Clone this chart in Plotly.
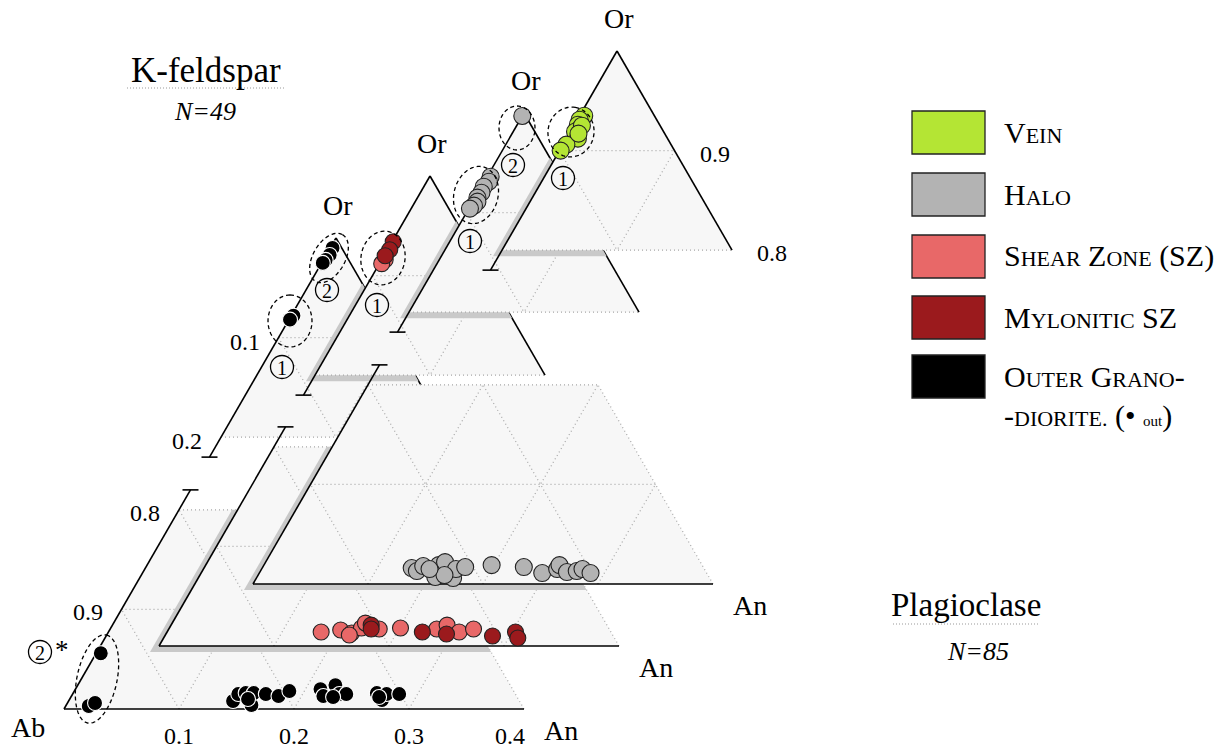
import math
import plotly.graph_objects as go

# ---------------- data (An, Or mole fractions) ----------------
# K-feldspar analyses (plotted near the Or apex)
kfs_vein_an = [0.004, 0.002, 0.003, 0.006, 0.004, 0.010, 0.003, 0.001, 0.007, 0.008]
kfs_vein_or = [0.935, 0.931, 0.926, 0.921, 0.919, 0.912, 0.906, 0.900, 0.925, 0.917]
kfs_halo_an = [0.000, 0.003, 0.004, 0.002, 0.003, 0.002, 0.004, 0.003, 0.001]
kfs_halo_or = [0.997, 0.936, 0.931, 0.926, 0.920, 0.915, 0.911, 0.907, 0.904]
kfs_sz_an = [0.003, 0.002]
kfs_sz_or = [0.916, 0.912]
kfs_myl_an = [0.001, 0.002, 0.001]
kfs_myl_or = [0.934, 0.926, 0.920]
kfs_out_an = [0.002, 0.003, 0.002, 0.001, 0.002, 0.001]
kfs_out_or = [0.990, 0.983, 0.978, 0.975, 0.922, 0.918]
kfs_out_ab_an = [0.004, 0.020, 0.024]
kfs_out_ab_or = [0.056, 0.003, 0.006]

# Plagioclase analyses (plotted near the Ab corner)
plg_halo_an = [0.130, 0.136, 0.139, 0.155, 0.152, 0.156, 0.171, 0.169, 0.176, 0.198,
               0.227, 0.246, 0.257, 0.257, 0.267, 0.275, 0.279, 0.288, 0.162, 0.146]
plg_halo_or = [0.016, 0.013, 0.018, 0.007, 0.019, 0.022, 0.006, 0.015, 0.017, 0.019,
               0.017, 0.011, 0.015, 0.019, 0.012, 0.013, 0.015, 0.011, 0.009, 0.015]
plg_sz_an = [0.134, 0.150, 0.161, 0.167, 0.168, 0.183, 0.201, 0.233, 0.240, 0.254, 0.265, 0.160]
plg_sz_or = [0.014, 0.016, 0.013, 0.018, 0.023, 0.017, 0.018, 0.017, 0.021, 0.014, 0.017, 0.011]
plg_myl_an = [0.174, 0.222, 0.244, 0.285, 0.303, 0.308, 0.176]
plg_myl_or = [0.021, 0.014, 0.012, 0.010, 0.014, 0.008, 0.017]
plg_out_an = [0.143, 0.144, 0.150, 0.161, 0.157, 0.168, 0.180, 0.187, 0.213, 0.219,
              0.224, 0.232, 0.238, 0.264, 0.272, 0.273, 0.284, 0.155, 0.228, 0.268]
plg_out_or = [0.008, 0.015, 0.016, 0.004, 0.016, 0.015, 0.013, 0.018, 0.020, 0.013,
              0.024, 0.015, 0.015, 0.016, 0.009, 0.015, 0.015, 0.010, 0.012, 0.012]

tick_values = [0.1, 0.2, 0.3, 0.4]
tick_labels = ["0.1", "0.2", "0.3", "0.4"]
SC = "<span style='font-size:22px'>"
legend_names = ["V" + SC + "EIN</span>",
                "H" + SC + "ALO</span>",
                "S" + SC + "HEAR</span> Z" + SC + "ONE</span> (SZ)",
                "M" + SC + "YLONITIC</span> SZ",
                "O" + SC + "UTER</span> G" + SC + "RANO</span>-"]
legend_last = "-" + SC + "DIORITE.</span> (• <span style='font-size:15px'>out</span>)"
group_marks = [("2", 327, 290), ("1", 282, 367), ("2", 40, 652), ("1", 377, 305),
               ("2", 513, 165), ("1", 470, 241), ("1", 563, 178)]

# ---------------- geometry / style ----------------
SX, SY = 1150.0, 996.0
FILL = "#f7f7f7"
SHADOW = "#c9c9c9"
GRID = "#a8a8a8"
GDASH = "1px,3px"
FONT = "Liberation Serif, Times New Roman, DejaVu Serif"
LAYERS = ["out", "sz", "halo", "vein"]          # back to front
LOWER = {"out": (64, 709), "sz": (159, 646), "halo": (253, 584)}
APEX = {"out": (336, 238), "sz": (430, 176), "halo": (524, 113), "vein": (617, 51)}
COL = {"vein": "#b4e534", "halo": "#b3b3b3", "sz": "#e86868", "myl": "#9b1a1d", "out": "#000000"}


def low(L, an, o):
    ox, oy = LOWER[L]
    return (ox + (an + o / 2) * SX, oy - o * SY)


def up(L, an, o):
    ax, ay = APEX[L]
    return (ax + (an + (o - 1) / 2) * SX, ay + (1 - o) * SY)


def path(pts, close=True):
    s = "M " + " L ".join(f"{x:.2f},{y:.2f}" for x, y in pts)
    return s + (" Z" if close else "")


def clip(subject, clipper):
    area = sum(clipper[i][0] * clipper[(i + 1) % len(clipper)][1] -
               clipper[(i + 1) % len(clipper)][0] * clipper[i][1] for i in range(len(clipper)))
    sg = 1 if area > 0 else -1

    def inside(p, a, b):
        return sg * ((b[0] - a[0]) * (p[1] - a[1]) - (b[1] - a[1]) * (p[0] - a[0])) >= 0

    def inter(p, q, a, b):
        x1, y1 = p; x2, y2 = q; x3, y3 = a; x4, y4 = b
        d = (x1 - x2) * (y3 - y4) - (y1 - y2) * (x3 - x4)
        t = ((x1 - x3) * (y3 - y4) - (y1 - y3) * (x3 - x4)) / d
        return (x1 + t * (x2 - x1), y1 + t * (y2 - y1))

    out = list(subject)
    for i in range(len(clipper)):
        a, b = clipper[i], clipper[(i + 1) % len(clipper)]
        inp, out = out, []
        if not inp:
            break
        s = inp[-1]
        for e in inp:
            if inside(e, a, b):
                if not inside(s, a, b):
                    out.append(inter(s, e, a, b))
                out.append(e)
            elif inside(s, a, b):
                out.append(inter(s, e, a, b))
            s = e
    return out


def region(L, piece):
    if piece == "lower":
        return [low(L, 0, 0), low(L, 0.4, 0), low(L, 0.2, 0.2), low(L, 0, 0.2)]
    return [up(L, 0, 1), up(L, 0, 0.8), up(L, 0.2, 0.8)]


shapes = []


def seg(p, q, color="black", width=1.6, dash="solid"):
    shapes.append(dict(type="line", x0=p[0], y0=p[1], x1=q[0], y1=q[1],
                       line=dict(color=color, width=width, dash=dash), layer="below"))


def gseg(p, q):
    seg(p, q, GRID, 1.2, GDASH)


def tick(p):
    seg((p[0] - 8, p[1]), (p[0] + 8, p[1]), width=1.6)


for i, L in enumerate(LAYERS):
    pieces = (["lower"] if L in LOWER else []) + ["upper"]
    # shadow cast on the layer just behind
    if i > 0:
        prev = LAYERS[i - 1]
        for pc in pieces:
            if pc == "lower" and prev not in LOWER:
                continue
            shifted = [(x - 9, y + 6) for x, y in region(L, pc)]
            sh = clip(shifted, region(prev, pc))
            if len(sh) >= 3:
                shapes.append(dict(type="path", path=path(sh), fillcolor=SHADOW,
                                   line=dict(width=0), layer="below"))
    for pc in pieces:
        shapes.append(dict(type="path", path=path(region(L, pc)), fillcolor=FILL,
                           line=dict(width=0), layer="below"))
    # dotted grid
    if "lower" in pieces:
        g = lambda a, o: low(L, a, o)
        gseg(g(0, 0.1), g(0.3, 0.1))
        gseg(g(0, 0.2), g(0.2, 0.2))
        for a in (0.1, 0.2, 0.3):
            gseg(g(a, 0), g(a, min(0.2, 0.4 - a)))
        for s in (0.1, 0.2, 0.3, 0.4):
            o = min(s, 0.2)
            gseg(g(s, 0), g(s - o, o))
        # axes
        seg(g(0, 0), g(0.4, 0))
        seg(g(0, 0), g(0, 0.22))
        tick(g(0, 0.22))
    u = lambda a, o: up(L, a, o)
    gseg(u(0, 0.9), u(0.1, 0.9))
    gseg(u(0, 0.8), u(0.2, 0.8))
    gseg(u(0.1, 0.9), u(0.1, 0.8))
    gseg(u(0, 0.9), u(0.1, 0.8))
    seg(u(0, 0.78), u(0, 1))
    tick(u(0, 0.78))
    seg(u(0, 1), u(0.2, 0.8))


def ellipse(cx, cy, rx, ry, th):
    t = math.radians(th)
    ux, uy = math.sin(t), -math.cos(t)
    vx, vy = math.cos(t), math.sin(t)
    pts = []
    for k in range(72):
        a = 2 * math.pi * k / 72
        pts.append((cx + ry * math.cos(a) * ux + rx * math.sin(a) * vx,
                    cy + ry * math.cos(a) * uy + rx * math.sin(a) * vy))
    shapes.append(dict(type="path", path=path(pts), line=dict(color="black", width=1.3, dash="4px,3px"),
                       fillcolor="rgba(0,0,0,0)", layer="above"))


ellipse(97, 679, 20, 45, 12)
ellipse(290, 321, 22, 26, 0)
ellipse(329, 258, 16, 27, 30)
ellipse(383, 258, 22, 27, 10)
ellipse(517, 128, 18, 22, 0)
ellipse(476, 195, 22, 29, 15)
ellipse(571, 132, 23, 25, 10)

# circled group numbers (circle outline)
for d, cx, cy in group_marks:
    shapes.append(dict(type="circle", x0=cx - 11.5, x1=cx + 11.5, y0=cy - 11.5, y1=cy + 11.5,
                       line=dict(color="black", width=1.3), fillcolor="rgba(0,0,0,0)", layer="above"))

# title underlines
seg((127, 88), (285, 88), "#999999", 1.2, "1px,2px")
seg((893, 624), (1040, 624), "#999999", 1.2, "1px,2px")

# legend boxes
leg_cols = [COL["vein"], COL["halo"], COL["sz"], COL["myl"], COL["out"]]
leg_y = [111, 173, 235, 296, 355]
for c, y0 in zip(leg_cols, leg_y):
    shapes.append(dict(type="rect", x0=912, x1=985, y0=y0, y1=y0 + 43, fillcolor=c,
                       line=dict(color="#222222", width=1.3), layer="below"))

fig = go.Figure()


def add_pts(xy_fn, L, an, o, color, edge, size=16):
    pts = [xy_fn(L, a, b) for a, b in zip(an, o)]
    fig.add_trace(go.Scatter(x=[p[0] for p in pts], y=[p[1] for p in pts], mode="markers",
                             marker=dict(size=size, color=color, line=dict(color=edge, width=1.1)),
                             showlegend=False, hoverinfo="skip"))


add_pts(low, "out", plg_out_an, plg_out_or, COL["out"], "white", 15)
add_pts(low, "out", kfs_out_ab_an, kfs_out_ab_or, COL["out"], "white", 15)
add_pts(up, "out", kfs_out_an, kfs_out_or, COL["out"], "white", 15)
add_pts(low, "sz", plg_sz_an, plg_sz_or, COL["sz"], "#222222")
add_pts(low, "sz", plg_myl_an, plg_myl_or, COL["myl"], "#222222")
add_pts(up, "sz", kfs_sz_an, kfs_sz_or, COL["sz"], "#222222")
add_pts(up, "sz", kfs_myl_an, kfs_myl_or, COL["myl"], "#222222")
add_pts(low, "halo", plg_halo_an, plg_halo_or, COL["halo"], "#222222", 17)
add_pts(up, "halo", kfs_halo_an, kfs_halo_or, COL["halo"], "#222222", 17)
add_pts(up, "vein", kfs_vein_an, kfs_vein_or, COL["vein"], "#222222", 17)

ann = []


def text(x, y, s, size=22, anchor="center", family=FONT):
    ann.append(dict(x=x, y=y, text=s, showarrow=False, xanchor=anchor, yanchor="middle",
                    font=dict(family=family, size=size, color="black")))


for L in LAYERS:
    ax, ay = APEX[L]
    text(ax + 2, ay - 33, "Or", 28)
for L in ["out", "sz", "halo"]:
    x, y = low(L, 0.4, 0)
    text(x + 37, y + 21, "An", 28)
text(28, 727, "Ab", 28)
for v, lab in zip(tick_values, tick_labels):
    x, y = low("out", v, 0)
    text(x - (14 if v == 0.4 else 0), y + 27, lab, 24)
for v, lab in [(0.1, "0.9"), (0.2, "0.8")]:
    x, y = low("out", 0, v)
    text(x - 34, y + 3, lab, 24)
for v, lab in [(0.9, "0.1"), (0.8, "0.2")]:
    x, y = up("out", 0, v)
    text(x - 34, y + 4, lab, 24)
for v, lab in [(0.9, "0.9"), (0.8, "0.8")]:
    x, y = up("vein", 1 - v, v)
    text(x + 40, y + 3, lab, 24)

text(206, 70, "K-feldspar", 35)
text(205, 111, "<i>N=49</i>", 26)
text(966, 605, "Plagioclase", 33)
text(978, 651, "<i>N=85</i>", 26)

# circled group numbers (digits)
for d, cx, cy in group_marks:
    text(cx, cy + 1, d, 20)
text(62, 650, "*", 27)

for nm, y0 in zip(legend_names, leg_y):
    text(1002, y0 + 21, nm, 30, "left")
text(1002, 416, legend_last, 30, "left")

fig.update_layout(
    width=1222, height=749, margin=dict(l=0, r=0, t=0, b=0),
    paper_bgcolor="white", plot_bgcolor="white",
    xaxis=dict(range=[0, 1222], visible=False, fixedrange=True),
    yaxis=dict(range=[749, 0], visible=False, fixedrange=True),
    shapes=shapes, annotations=ann, showlegend=False,
)
fig.write_html("out.html", post_script="document.body.style.margin='0';", config={"displayModeBar": False})
